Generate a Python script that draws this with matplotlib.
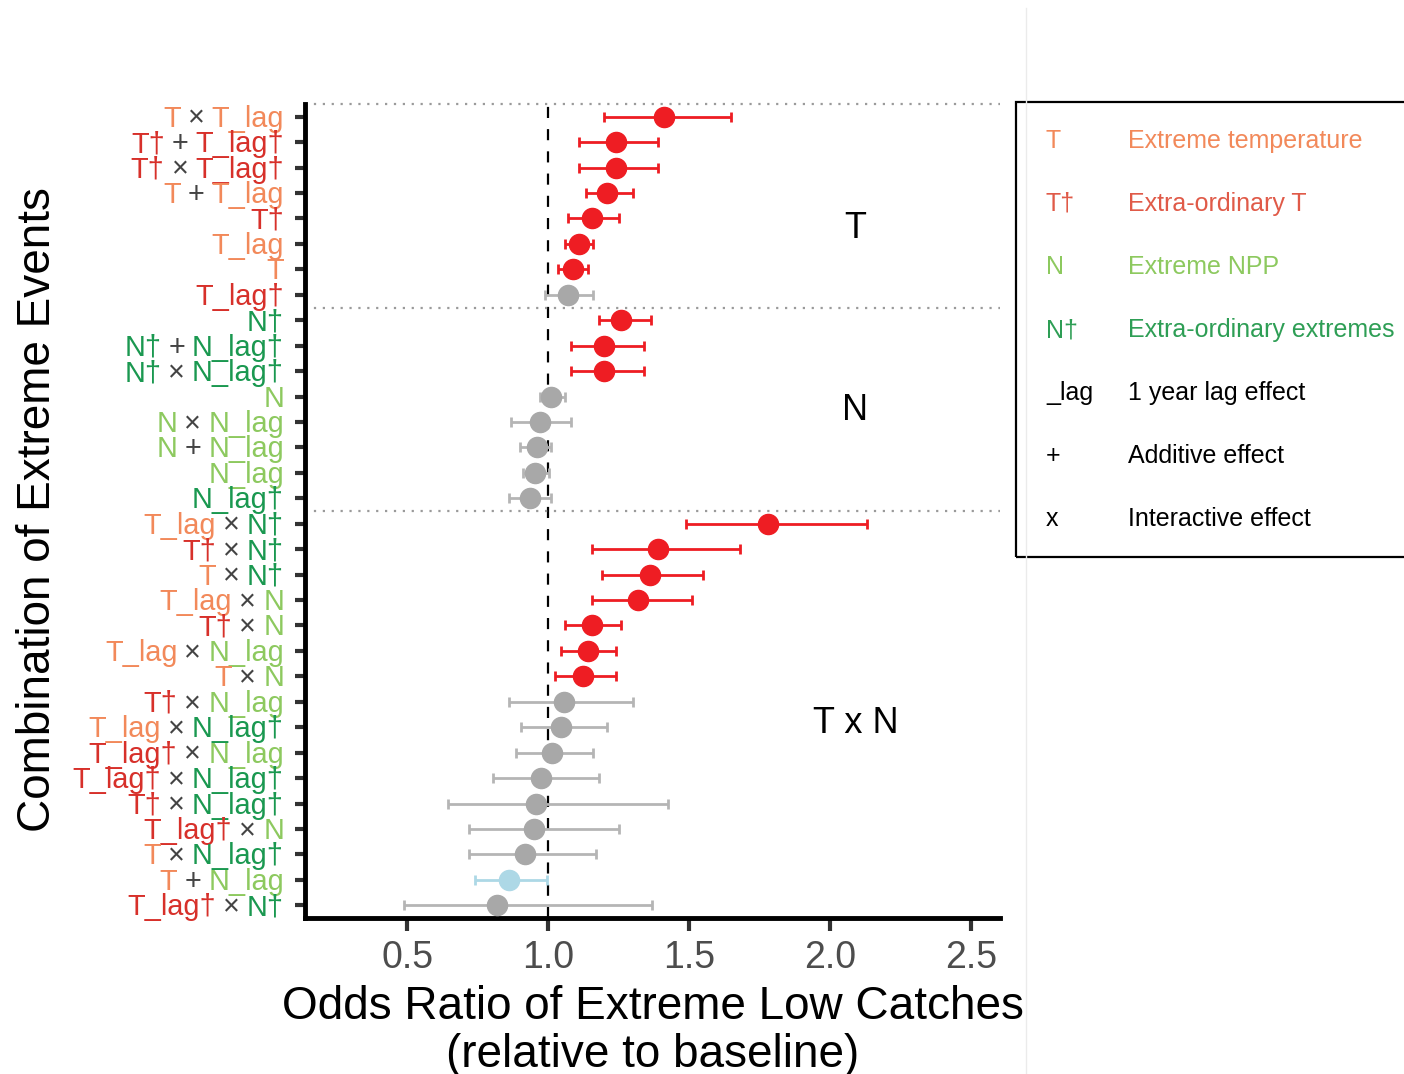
import numpy as np
import matplotlib
matplotlib.use("Agg")
import matplotlib.pyplot as plt
from matplotlib.transforms import blended_transform_factory, IdentityTransform, Affine2D
from matplotlib.patches import Rectangle
from matplotlib.lines import Line2D

plt.rcParams['font.family'] = ['Liberation Sans', 'DejaVu Sans']

# rows, top to bottom
terms = ["T × T_lag", "T† + T_lag†", "T† × T_lag†", "T + T_lag", "T†", "T_lag", "T", "T_lag†",
         "N†", "N† + N_lag†", "N† × N_lag†", "N", "N × N_lag", "N + N_lag", "N_lag", "N_lag†",
         "T_lag × N†", "T† × N†", "T × N†", "T_lag × N", "T† × N", "T_lag × N_lag", "T × N",
         "T† × N_lag", "T_lag × N_lag†", "T_lag† × N_lag", "T_lag† × N_lag†", "T† × N_lag†",
         "T_lag† × N", "T × N_lag†", "T + N_lag", "T_lag† × N†"]
odds = [1.41, 1.24, 1.24, 1.21, 1.155, 1.11, 1.09, 1.07,
        1.26, 1.20, 1.20, 1.01, 0.97, 0.96, 0.955, 0.935,
        1.78, 1.39, 1.36, 1.32, 1.155, 1.14, 1.125,
        1.055, 1.045, 1.015, 0.975, 0.957, 0.95, 0.92, 0.86, 0.82]
ci_low = [1.20, 1.11, 1.11, 1.135, 1.07, 1.06, 1.035, 0.99,
          1.18, 1.08, 1.08, 0.97, 0.87, 0.90, 0.91, 0.86,
          1.49, 1.155, 1.19, 1.155, 1.06, 1.045, 1.025,
          0.86, 0.905, 0.887, 0.805, 0.645, 0.72, 0.72, 0.74, 0.49]
ci_high = [1.65, 1.39, 1.39, 1.30, 1.25, 1.16, 1.14, 1.16,
           1.365, 1.34, 1.34, 1.06, 1.08, 1.01, 1.005, 1.01,
           2.13, 1.68, 1.55, 1.51, 1.26, 1.24, 1.24,
           1.30, 1.21, 1.16, 1.18, 1.425, 1.25, 1.17, 0.995, 1.37]
groups = ["T", "N", "T x N"]
group_sizes = [8, 8, 16]
xticks = [0.5, 1.0, 1.5, 2.0, 2.5]
legend_keys = ["T", "T†", "N", "N†", "_lag", "+", "x"]
legend_desc = ["Extreme temperature", "Extra-ordinary T", "Extreme NPP", "Extra-ordinary extremes",
               "1 year lag effect", "Additive effect", "Interactive effect"]

ORANGE = "#F2895A"
DRED = "#D7302A"
LGREEN = "#8DC95F"
DGREEN = "#1A9850"
OPGREY = "#444444"


def term_color(tok):
    if tok.startswith("T"):
        return DRED if "†" in tok else ORANGE
    if tok.startswith("N"):
        return DGREEN if "†" in tok else LGREEN
    return OPGREY


W, H = 1404, 1074
fig = plt.figure(figsize=(W / 100, H / 100), dpi=100)
ax = fig.add_axes([305 / W, 1 - 918 / H, (1000 - 305) / W, (918 - 104) / H])

n = len(terms)
ypos = np.arange(n, 0, -1)
xmin, xmax = 0.138, 2.603

for i in range(n):
    if ci_low[i] > 1:
        pc, ec = "#EE1D23", "#EE1D23"
    elif ci_high[i] < 1:
        pc, ec = "#ADD8E6", "#ADD8E6"
    else:
        pc, ec = "#A8A8A8", "#B5B5B5"
    ax.errorbar(odds[i], ypos[i], xerr=[[odds[i] - ci_low[i]], [ci_high[i] - odds[i]]],
                fmt='none', ecolor=ec, elinewidth=2, capsize=3.5, capthick=2, zorder=2)
    ax.plot(odds[i], ypos[i], 'o', color=pc, markersize=14.5, zorder=3)

ax.axvline(1.0, color='black', lw=1.6, ls=(0, (5, 5)), zorder=1)

# group separators
cum = np.cumsum(group_sizes)
sep_y = [n + 0.5] + [n - c + 0.5 for c in cum[:-1]]
for y in sep_y:
    ax.plot([xmin, xmax], [y, y], color='#9A9A9A', lw=1.6, ls=(0, (1, 3)), clip_on=False, zorder=1)

label_shift = [0.9, 0.05, 0.35]
start = 0
for g, size, sh in zip(groups, group_sizes, label_shift):
    mid = n - (start + (size - 1) / 2) - sh
    ax.text(2.09, mid, g, fontsize=26, ha='center', va='center', color='black')
    start += size

ax.set_xlim(xmin, xmax)
ax.set_ylim(0.5, n + 0.5)
ax.set_xticks(xticks)
ax.set_xticklabels(["%.1f" % v for v in xticks])
ax.set_yticks(ypos)
ax.set_yticklabels([])
for s in ["top", "right"]:
    ax.spines[s].set_visible(False)
for s in ["left", "bottom"]:
    ax.spines[s].set_linewidth(3.5)
    ax.spines[s].set_color("black")
ax.tick_params(axis='y', length=7, width=3, color='#333333')
ax.tick_params(axis='x', length=9, width=3, color='#333333', labelsize=27,
               labelcolor='#4D4D4D', pad=7)

# coloured y labels, built token by token from the right
renderer = fig.canvas.get_renderer()
LBL = 20.8


def text_width(s, size=LBL):
    t = fig.text(0, 0, s, fontsize=size)
    w = t.get_window_extent(renderer).width
    t.remove()
    return w


gap = text_width("T T") - text_width("TT")
trans = blended_transform_factory(IdentityTransform(), ax.transData) + Affine2D().translate(0, -10)
for i, term in enumerate(terms):
    x = 284
    for tok in reversed(term.split(" ")):
        ax.text(x, ypos[i], tok, transform=trans, ha='right', va='baseline', fontsize=LBL,
                color=term_color(tok), clip_on=False)
        x -= text_width(tok) + gap

fig.text(38 / W, 1 - 510 / H, "Combination of Extreme Events", rotation=90,
         ha='center', va='center', fontsize=33)
fig.text(653 / W, 1 - 1031 / H, "Odds Ratio of Extreme Low Catches\n(relative to baseline)",
         ha='center', va='center', fontsize=33, linespacing=1.1)

# legend box (runs off the right edge)
fig.add_artist(Line2D([1026 / W, 1026 / W], [0, 1 - 8 / H], color='#EBEBEB', lw=1))
fig.add_artist(Rectangle((1016 / W, 1 - 557 / H), 420 / W, 455 / H, transform=fig.transFigure,
                         fill=False, ec='black', lw=1.6))
leg_colors = [ORANGE, "#E05A48", LGREEN, "#2E9E55", "black", "black", "black"]
for k, (key, desc, c) in enumerate(zip(legend_keys, legend_desc, leg_colors)):
    y = 1 - (141 + 63 * k) / H
    fig.text(1046 / W, y, key, color=c, fontsize=18, ha='left', va='center')
    fig.text(1128 / W, y, desc, color=c, fontsize=18, ha='left', va='center')

fig.savefig("out.png", dpi=100)
